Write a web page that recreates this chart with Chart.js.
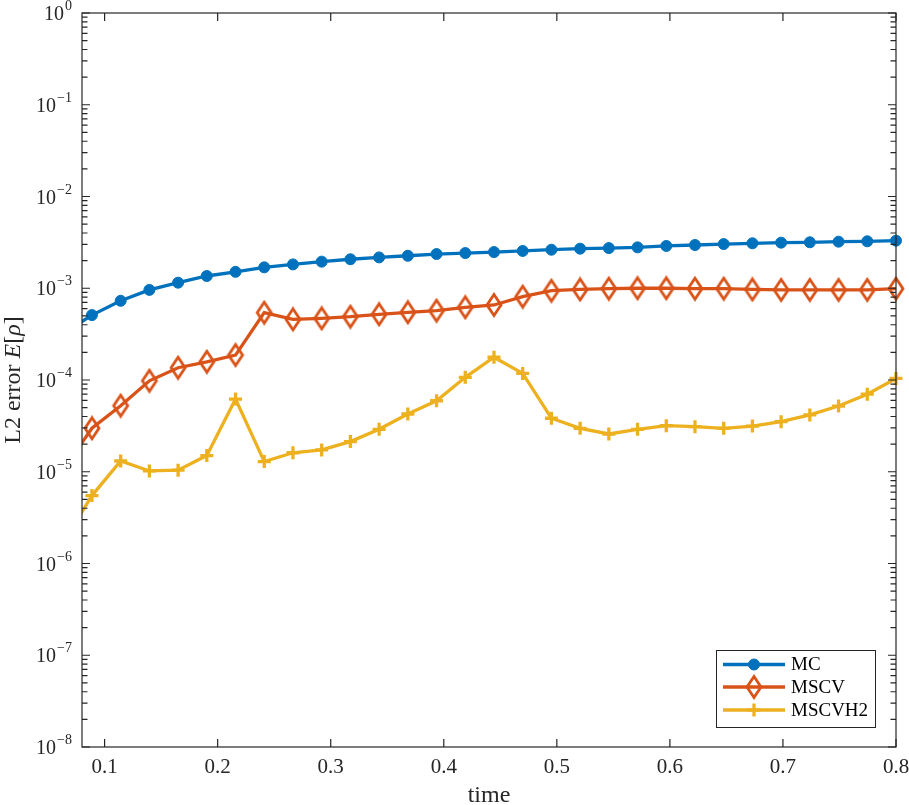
<!DOCTYPE html>
<html>
<head>
<meta charset="utf-8">
<script src="https://cdn.jsdelivr.net/npm/chart.js@4.4.1/dist/chart.umd.min.js"></script>
<style>
  body { margin: 0; background: #ffffff; }
  canvas { display: block; }
</style>
</head>
<body>
<canvas id="errChart" width="909" height="805"></canvas>
<script>
// Zeitpunkte (erster Punkt liegt links ausserhalb der Achse)
const times = [0.0634, 0.0888, 0.1142, 0.1396, 0.1650, 0.1904, 0.2158, 0.2412, 0.2666, 0.2920,
               0.3174, 0.3428, 0.3682, 0.3936, 0.4190, 0.4444, 0.4698, 0.4952, 0.5206, 0.5460,
               0.5714, 0.5968, 0.6222, 0.6476, 0.6730, 0.6984, 0.7238, 0.7492, 0.7746, 0.8000];

const errMC = [3.2e-4, 5.1e-4, 7.3e-4, 9.6e-4, 1.15e-3, 1.36e-3, 1.51e-3, 1.69e-3, 1.82e-3, 1.95e-3,
               2.07e-3, 2.17e-3, 2.26e-3, 2.36e-3, 2.42e-3, 2.48e-3, 2.55e-3, 2.63e-3, 2.70e-3, 2.74e-3,
               2.79e-3, 2.89e-3, 2.96e-3, 3.03e-3, 3.09e-3, 3.14e-3, 3.17e-3, 3.22e-3, 3.25e-3, 3.30e-3];

const errMSCV = [1.06e-5, 2.98e-5, 5.25e-5, 9.8e-5, 1.36e-4, 1.58e-4, 1.87e-4, 5.42e-4, 4.58e-4, 4.70e-4,
                 4.90e-4, 5.2e-4, 5.47e-4, 5.70e-4, 6.2e-4, 6.57e-4, 8.1e-4, 9.4e-4, 9.7e-4, 9.9e-4,
                 1.0e-3, 1.0e-3, 9.9e-4, 9.9e-4, 9.7e-4, 9.6e-4, 9.6e-4, 9.6e-4, 9.6e-4, 9.9e-4];

const errMSCVH2 = [1.7e-6, 5.5e-6, 1.31e-5, 1.02e-5, 1.04e-5, 1.50e-5, 6.2e-5, 1.29e-5, 1.61e-5, 1.73e-5,
                   2.13e-5, 2.9e-5, 4.26e-5, 5.94e-5, 1.07e-4, 1.77e-4, 1.18e-4, 3.83e-5, 2.97e-5, 2.58e-5,
                   2.9e-5, 3.18e-5, 3.1e-5, 2.97e-5, 3.15e-5, 3.51e-5, 4.16e-5, 5.2e-5, 7.0e-5, 1.04e-4];

const seriesNames = ['MC', 'MSCV', 'MSCVH2'];
const xTicks = [0.1, 0.2, 0.3, 0.4, 0.5, 0.6, 0.7, 0.8];
const yTicks = [1e-8, 1e-7, 1e-6, 1e-5, 1e-4, 1e-3, 1e-2, 1e-1, 1];

const axisColor = '#262626';
const serif = '"Liberation Serif", "DejaVu Serif", serif';

// Raute als eigenes Punktsymbol (etwas hoeher als breit)
function makeDiamond(color) {
  const c = document.createElement('canvas');
  c.width = 20; c.height = 26;
  const g = c.getContext('2d');
  g.strokeStyle = color;
  g.lineWidth = 2.8;
  g.lineJoin = 'miter';
  g.beginPath();
  g.moveTo(10, 2.5);
  g.lineTo(17, 13);
  g.lineTo(10, 23.5);
  g.lineTo(3, 13);
  g.closePath();
  g.stroke();
  return c;
}
const diamond = makeDiamond('#D95319');

function toPoints(vals) {
  return vals.map((v, i) => ({ x: times[i], y: v }));
}

const clipLeft = { left: 0, top: false, right: false, bottom: false };

// Achsenkasten, Ticks nach innen, Beschriftungen, Legende
const matlabAxes = {
  id: 'matlabAxes',
  afterDatasetsDraw(chart) {
    const ctx = chart.ctx;
    const a = chart.chartArea;
    const xs = chart.scales.x;
    const ys = chart.scales.y;
    ctx.save();
    ctx.strokeStyle = axisColor;
    ctx.lineWidth = 1.2;
    ctx.strokeRect(a.left, a.top, a.right - a.left, a.bottom - a.top);

    ctx.beginPath();
    xTicks.forEach(t => {
      const px = xs.getPixelForValue(t);
      ctx.moveTo(px, a.bottom); ctx.lineTo(px, a.bottom - 8);
      ctx.moveTo(px, a.top); ctx.lineTo(px, a.top + 8);
    });
    for (let d = -8; d <= 0; d++) {
      for (let m = 1; m <= 9; m++) {
        if (d === 0 && m > 1) break;
        const py = ys.getPixelForValue(m * Math.pow(10, d));
        const len = m === 1 ? 8 : 5.5;
        ctx.moveTo(a.left, py); ctx.lineTo(a.left + len, py);
        ctx.moveTo(a.right, py); ctx.lineTo(a.right - len, py);
      }
    }
    ctx.stroke();

    // x Beschriftung
    ctx.fillStyle = axisColor;
    ctx.font = '21px ' + serif;
    ctx.textAlign = 'center';
    ctx.textBaseline = 'middle';
    xTicks.forEach(t => {
      ctx.fillText(t.toFixed(1), xs.getPixelForValue(t), 767);
    });

    // y Beschriftung 10^n
    ys.ticks.forEach(tk => {
      const py = ys.getPixelForValue(tk.value);
      const e = Math.round(Math.log10(tk.value));
      const expText = e < 0 ? '\u2212' + (-e) : String(e);
      ctx.font = '14px ' + serif;
      const ew = ctx.measureText(expText).width;
      ctx.textAlign = 'left';
      ctx.textBaseline = 'alphabetic';
      ctx.fillText(expText, 72 - ew, py - 3);
      ctx.font = '20px ' + serif;
      ctx.textAlign = 'right';
      ctx.fillText('10', 72 - ew - 1, py + 7);
    });

    // Achsentitel
    ctx.font = '24px ' + serif;
    ctx.textAlign = 'center';
    ctx.textBaseline = 'middle';
    ctx.fillText('time', (a.left + a.right) / 2, 796);

    const parts = [['L2 error ', ''], ['E', 'italic '], ['[', ''], ['\u03c1', 'italic '], [']', '']];
    let total = 0;
    parts.forEach(p => { ctx.font = p[1] + '24px ' + serif; total += ctx.measureText(p[0]).width; });
    ctx.translate(14, (a.top + a.bottom) / 2);
    ctx.rotate(-Math.PI / 2);
    ctx.textAlign = 'left';
    let cx = -total / 2;
    parts.forEach(p => {
      ctx.font = p[1] + '24px ' + serif;
      ctx.fillText(p[0], cx, 0);
      cx += ctx.measureText(p[0]).width;
    });
    ctx.restore();

    // Legende unten rechts
    ctx.save();
    ctx.fillStyle = '#ffffff';
    ctx.fillRect(716, 650, 160, 77);
    ctx.strokeStyle = axisColor;
    ctx.lineWidth = 1;
    ctx.strokeRect(716.5, 650.5, 159, 77);
    const rows = [664.5, 687, 710];
    chart.data.datasets.forEach((ds, i) => {
      const y = rows[i];
      ctx.strokeStyle = ds.borderColor;
      ctx.fillStyle = ds.borderColor;
      ctx.lineWidth = ds.borderWidth;
      ctx.beginPath();
      ctx.moveTo(723, y); ctx.lineTo(785, y);
      ctx.stroke();
      ctx.lineWidth = ds.pointBorderWidth;
      Chart.helpers.drawPoint(ctx, {
        pointStyle: ds.pointStyle,
        radius: ds.pointRadius,
        borderWidth: ds.pointBorderWidth
      }, 754, y);
      ctx.fillStyle = '#000000';
      ctx.font = '19px ' + serif;
      ctx.textAlign = 'left';
      ctx.textBaseline = 'middle';
      ctx.fillText(ds.label, 791, y + 1);
    });
    ctx.restore();
  }
};

const chart = new Chart(document.getElementById('errChart'), {
  type: 'line',
  data: {
    datasets: [
      {
        label: seriesNames[0],
        data: toPoints(errMC),
        borderColor: '#0072BD',
        backgroundColor: '#0072BD',
        borderWidth: 3.3,
        pointStyle: 'circle',
        pointRadius: 5.5,
        pointBorderWidth: 1,
        pointBackgroundColor: '#0072BD',
        pointBorderColor: '#0072BD',
        clip: clipLeft
      },
      {
        label: seriesNames[1],
        data: toPoints(errMSCV),
        borderColor: '#D95319',
        backgroundColor: '#D95319',
        borderWidth: 3.3,
        pointStyle: diamond,
        pointRadius: 8,
        pointBorderWidth: 2.8,
        clip: clipLeft
      },
      {
        label: seriesNames[2],
        data: toPoints(errMSCVH2),
        borderColor: '#EDB120',
        backgroundColor: '#EDB120',
        borderWidth: 3.3,
        pointStyle: 'cross',
        pointRadius: 6.5,
        pointBorderWidth: 3.3,
        pointBorderColor: '#EDB120',
        clip: clipLeft
      }
    ]
  },
  options: {
    responsive: false,
    animation: false,
    layout: { padding: { left: 0, top: 13, right: 13, bottom: 0 } },
    plugins: {
      legend: { display: false },
      tooltip: { enabled: false }
    },
    elements: { line: { tension: 0 } },
    scales: {
      x: {
        type: 'linear',
        min: 0.08,
        max: 0.8,
        grid: { display: false, drawTicks: false },
        border: { display: false },
        afterBuildTicks: s => { s.ticks = xTicks.map(v => ({ value: v })); },
        afterFit: s => { s.height = 58; s.paddingLeft = 0; s.paddingRight = 0; },
        ticks: { display: false }
      },
      y: {
        type: 'logarithmic',
        min: 1e-8,
        max: 1,
        grid: { display: false, drawTicks: false },
        border: { display: false },
        afterBuildTicks: s => { s.ticks = yTicks.map(v => ({ value: v })); },
        afterFit: s => { s.width = 82; s.paddingTop = 0; s.paddingBottom = 0; },
        ticks: { display: false }
      }
    }
  },
  plugins: [matlabAxes]
});
</script>
</body>
</html>
